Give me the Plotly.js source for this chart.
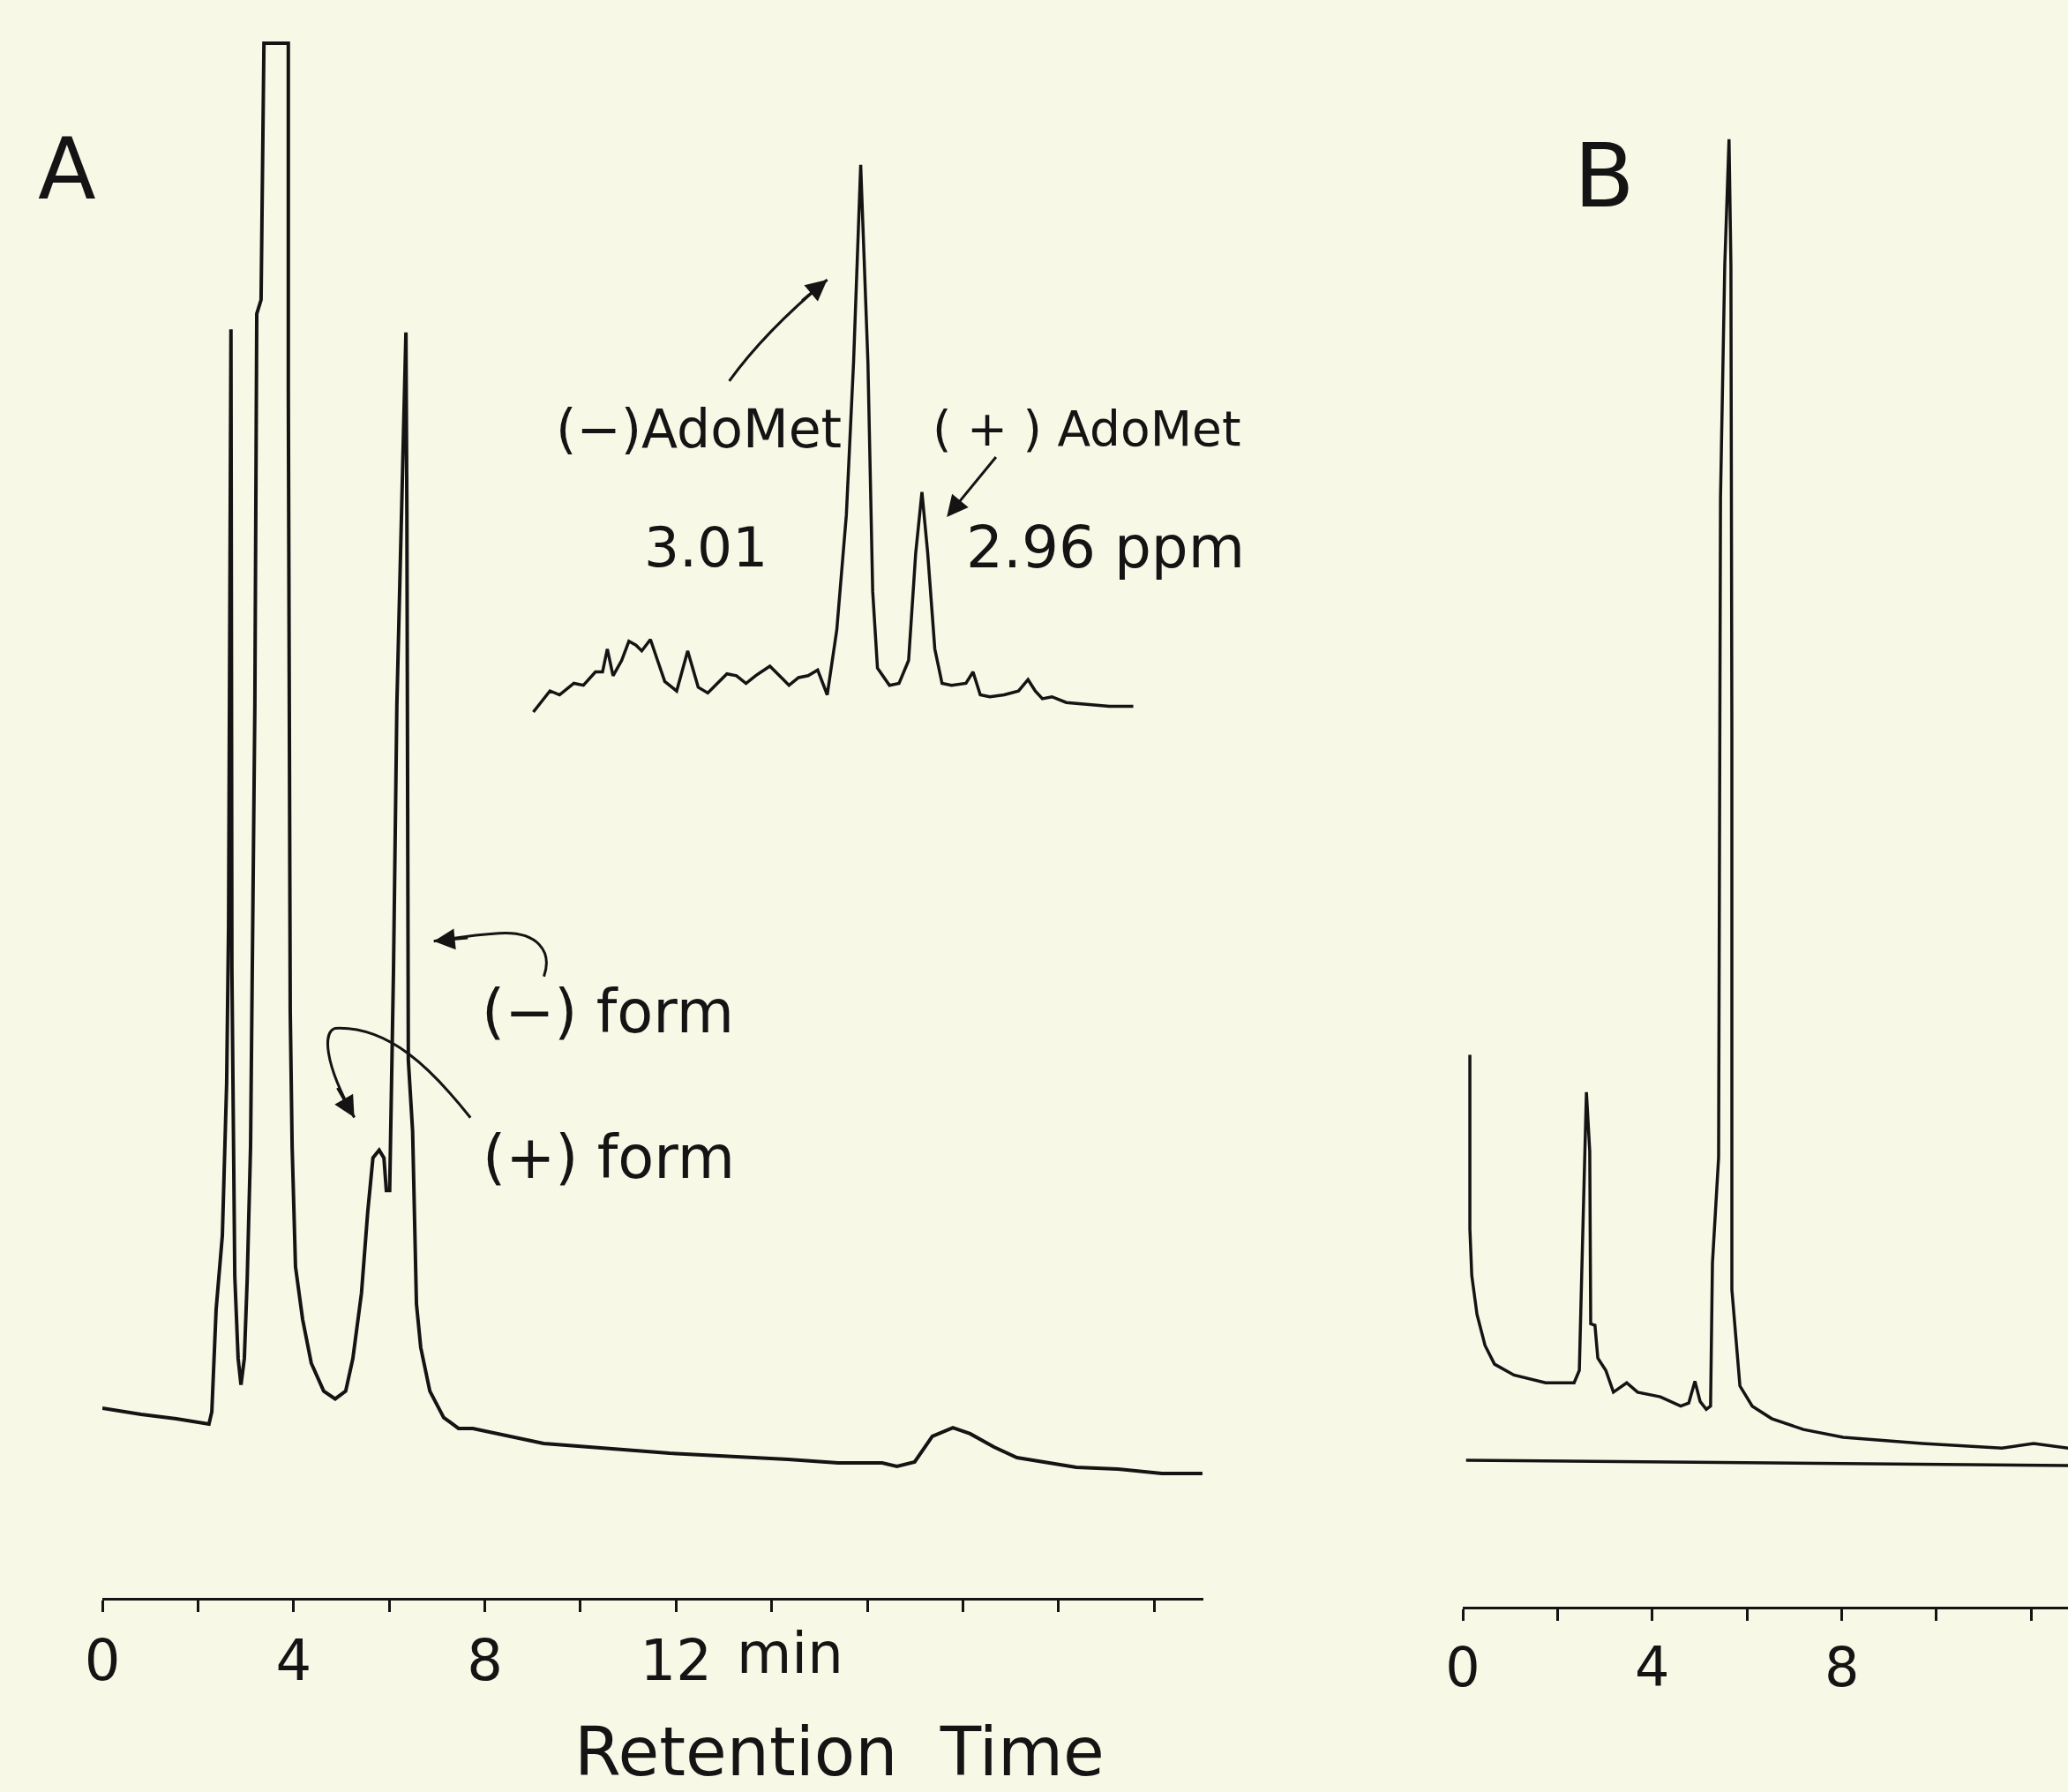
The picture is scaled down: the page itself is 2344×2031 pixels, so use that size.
<!DOCTYPE html>
<html>
<head>
<meta charset="utf-8">
<script src="https://cdn.plot.ly/plotly-3.0.1.min.js"></script>
<style>html,body{margin:0;padding:0;background:#f8f8e6;}#chart{width:2344px;height:2031px;}</style>
</head>
<body>
<div id="chart"></div>
<script>
// ---- Panel A chromatogram (retention time in min, detector response % full scale)
const timeA = [0, 0.81, 1.55, 2.23, 2.29, 2.38, 2.51, 2.60, 2.64, 2.69, 2.71, 2.73, 2.77, 2.84, 2.90, 2.97, 3.03, 3.10, 3.19, 3.23, 3.32, 3.38, 3.89, 3.89, 3.91, 3.93, 3.97, 4.04, 4.19, 4.37, 4.63, 4.87, 5.09, 5.24, 5.42, 5.55, 5.66, 5.79, 5.89, 5.94, 6.01, 6.09, 6.16, 6.25, 6.31, 6.35, 6.37, 6.38, 6.40, 6.49, 6.57, 6.66, 6.85, 7.14, 7.45, 7.75, 9.23, 11.86, 14.34, 15.39, 16.31, 16.62, 16.99, 17.36, 17.79, 18.15, 18.65, 19.13, 19.76, 20.37, 21.24, 22.16, 23.01];
const signalA = [12.2, 11.8, 11.52, 11.18, 11.97, 18.56, 23.3, 33.1, 43.2, 81.6, 40.4, 33.1, 20.7, 15.4, 13.7, 15.4, 20.5, 29.0, 57.4, 82.6, 83.5, 100, 100, 77.6, 51.7, 37.7, 29.0, 21.3, 17.9, 15.1, 13.3, 12.8, 13.3, 15.4, 19.6, 24.8, 28.3, 28.8, 28.3, 26.2, 26.2, 40.4, 57.4, 69.7, 78.1, 81.4, 69.7, 46.0, 34.6, 30.0, 18.9, 16.1, 13.3, 11.6, 10.9, 10.9, 9.93, 9.31, 8.91, 8.68, 8.68, 8.46, 8.74, 10.39, 10.95, 10.56, 9.70, 9.02, 8.68, 8.40, 8.29, 8.0, 8.0];

// ---- Panel B chromatogram
const timeB = [0.15, 0.15, 0.19, 0.30, 0.47, 0.67, 1.08, 1.75, 2.35, 2.46, 2.51, 2.61, 2.68, 2.70, 2.79, 2.85, 3.02, 3.18, 3.46, 3.69, 4.17, 4.60, 4.77, 4.90, 5.01, 5.14, 5.23, 5.27, 5.40, 5.44, 5.53, 5.62, 5.66, 5.68, 5.68, 5.85, 6.11, 6.52, 7.19, 8.03, 9.70, 11.38, 12.05, 12.78];
const signalB = [35.5, 24.3, 21.3, 18.8, 16.8, 15.6, 14.9, 14.4, 14.4, 15.2, 21.3, 33.1, 29.3, 18.2, 18.1, 16.0, 15.2, 13.8, 14.4, 13.8, 13.5, 12.9, 13.1, 14.5, 13.2, 12.7, 12.9, 22.1, 28.9, 71.3, 86.3, 94.4, 86.3, 56.2, 20.4, 14.2, 12.9, 12.1, 11.4, 10.9, 10.5, 10.2, 10.5, 10.2];
const zeroTimeB = [0.07, 12.78];
const zeroSignalB = [9.42, 9.08];

// ---- Inset NMR spectrum (chemical shift ppm, intensity)
const ppmInset = [3.2773, 3.2637, 3.2559, 3.2442, 3.2364, 3.2266, 3.2208, 3.2169, 3.2122, 3.2052, 3.1993, 3.1935, 3.1888, 3.1817, 3.1759, 3.1700, 3.1603, 3.1513, 3.1427, 3.1349, 3.1271, 3.1193, 3.1115, 3.1037, 3.0959, 3.0842, 3.0764, 3.0686, 3.0608, 3.0530, 3.0452, 3.0374, 3.0296, 3.0218, 3.0159, 3.0101, 3.0042, 3.0003, 2.9964, 2.9866, 2.9788, 2.9710, 2.9652, 2.9601, 2.9554, 2.9496, 2.9437, 2.9359, 2.9242, 2.9184, 2.9125, 2.9047, 2.8930, 2.8813, 2.8735, 2.8676, 2.8618, 2.8540, 2.8423, 2.8267, 2.8072, 2.7876];
const intensityInset = [13, 37, 32.5, 45.5, 43.3, 58.5, 58.5, 84.5, 54, 71.5, 93.2, 88.8, 82.3, 95.3, 71.5, 47.6, 36.8, 82.3, 41.1, 34.6, 45.5, 56.3, 54.2, 45.5, 54.2, 65, 54.2, 43.3, 52, 54.2, 60.6, 32.5, 106.2, 236.3, 409.8, 633.1, 409.8, 149.6, 62.8, 43.3, 45.5, 71.5, 193, 262.3, 193, 84.5, 45.5, 43.3, 45.5, 58.5, 32.5, 30.3, 32.5, 36.8, 49.8, 36.8, 28.1, 30.3, 23.8, 21.6, 19.5, 19.5];

// ---- Tick labels
const tickValsA = [0, 2, 4, 6, 8, 10, 12, 14, 16, 18, 20, 22];
const tickTextA = ['0', '', '4', '', '8', '', '12', '', '', '', '', ''];
const tickValsB = [0, 2, 4, 6, 8, 10, 12];
const tickTextB = ['0', '', '4', '', '8', '', ''];

const INK = '#141414';
const BG = '#f8f8e6';
const FONT = 'DejaVu Sans, sans-serif';

const traces = [
  {x: timeA, y: signalA, xaxis: 'x', yaxis: 'y', mode: 'lines', line: {color: INK, width: 4}, hoverinfo: 'skip'},
  {x: timeB, y: signalB, xaxis: 'x2', yaxis: 'y2', mode: 'lines', line: {color: INK, width: 3.5}, hoverinfo: 'skip'},
  {x: zeroTimeB, y: zeroSignalB, xaxis: 'x2', yaxis: 'y2', mode: 'lines', line: {color: INK, width: 3.5}, hoverinfo: 'skip'},
  {x: ppmInset, y: intensityInset, xaxis: 'x3', yaxis: 'y3', mode: 'lines', line: {color: INK, width: 3.5}, hoverinfo: 'skip'}
];

function xAxis(domain, range, vals, text, anchor, fs) {
  return {
    domain: domain, range: range, anchor: anchor,
    showline: true, linecolor: INK, linewidth: 3,
    ticks: 'outside', ticklen: 13, tickwidth: 3, tickcolor: INK,
    tickmode: 'array', tickvals: vals, ticktext: text,
    tickfont: {family: FONT, size: fs, color: INK},
    showgrid: false, zeroline: false, fixedrange: true
  };
}
const hiddenY = (domain, range, anchor) => ({domain: domain, range: range, anchor: anchor, visible: false, showgrid: false, zeroline: false, fixedrange: true});

const ann = (text, x, y, size, extra) => Object.assign({
  text: text, x: x, y: y, xref: 'paper', yref: 'paper', showarrow: false,
  xanchor: 'center', yanchor: 'middle', font: {family: FONT, size: size, color: INK}
}, extra || {});

const arrowHead = (x, y, ax, ay, xr, yr) => ({
  x: x, y: y, ax: ax, ay: ay, xref: xr, yref: yr, text: '', showarrow: true,
  arrowhead: 2, arrowsize: 1.6, arrowwidth: 3, arrowcolor: INK, standoff: 0
});

const layout = {
  width: 2344, height: 2031,
  margin: {l: 0, r: 0, t: 0, b: 0},
  paper_bgcolor: BG, plot_bgcolor: 'rgba(0,0,0,0)',
  showlegend: false, hovermode: false,
  xaxis: xAxis([0.04949, 0.58191], [0, 23.03], tickValsA, tickTextA, 'y', 64),
  yaxis: hiddenY([0.108321, 0.984540], [0, 101], 'x'),
  xaxis2: xAxis([0.70734, 1], [0, 12.775], tickValsB, tickTextB, 'y2', 62),
  yaxis2: hiddenY([0.103397, 0.979616], [0, 101], 'x2'),
  xaxis3: {domain: [0.253328, 0.552517], range: [3.285, 2.78], anchor: 'y3', visible: false, fixedrange: true},
  yaxis3: hiddenY([0.596258, 0.916297], [0, 650], 'x3'),
  shapes: [
    {type: 'path', xref: 'x3', yref: 'y3', path: 'M 3.1174,388.1 Q 3.0881,444.5 3.0374,503', line: {color: INK, width: 3}},
    {type: 'path', xref: 'x', yref: 'y', path: 'M 9.236,39.97 C 9.42,41.6 9.1,42.9 8.3,42.75 C 7.7,42.65 7.3,42.4 6.932,42.24', line: {color: INK, width: 3}},
    {type: 'path', xref: 'x', yref: 'y', path: 'M 7.699,30.89 C 6.9,34.0 6.0,36.8 4.871,36.64 C 4.62,36.4 4.62,34.5 5.271,30.9', line: {color: INK, width: 3}}
  ],
  annotations: [
    ann('A', 0.03242, 0.90547, 96),
    ann('B', 0.77602, 0.90153, 100),
    ann('(−)AdoMet', 0.33788, 0.76071, 60),
    ann('( + ) AdoMet', 0.52560, 0.76071, 55),
    ann('3.01', 0.34130, 0.69473, 63),
    ann('2.96 ppm', 0.53456, 0.69473, 66),
    ann('(−) form', 0.29394, 0.43525, 67),
    ann('(+) form', 0.29437, 0.35401, 67),
    ann('min', 0.3819, 0.0772, 64),
    ann('Retention  Time', 0.40572, 0.0, 76, {yanchor: 'bottom', borderpad: 0}),
    // arrow heads / straight arrows
    arrowHead(3.0374, 503, -30, 25, 'x3', 'y3'),
    Object.assign(arrowHead(2.9398, 234.1, 2.8988, 303.5, 'x3', 'y3'), {axref: 'x3', ayref: 'y3'}),
    arrowHead(6.932, 42.24, 40, -4, 'x', 'y'),
    arrowHead(5.271, 30.9, -20, -35, 'x', 'y')
  ]
};

Plotly.newPlot('chart', traces, layout, {staticPlot: true, displayModeBar: false});
</script>
</body>
</html>
